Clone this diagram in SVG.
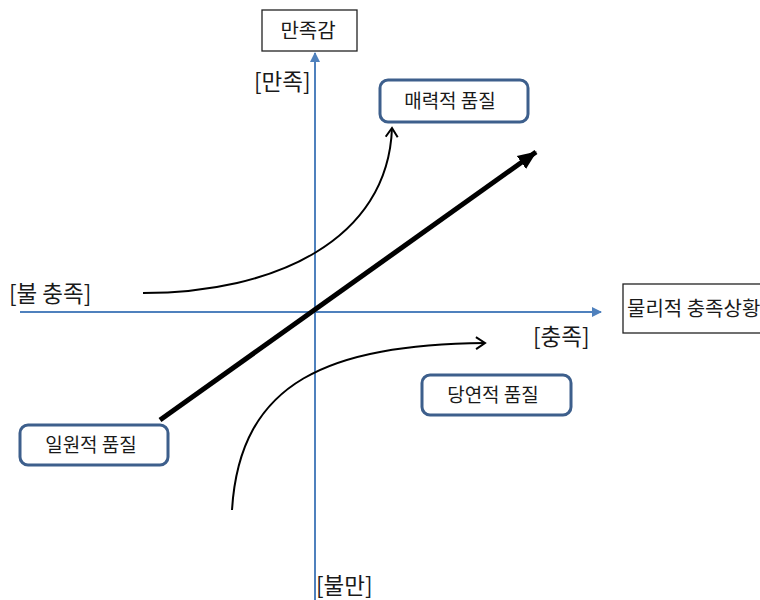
<svg xmlns="http://www.w3.org/2000/svg" width="760" height="600" viewBox="0 0 760 600">
<style>
.t{font-family:"Noto Sans CJK KR","Noto Sans",sans-serif;fill:#1a1a1a}
.s{font-size:19px}
.l{font-size:22.5px}
.rb{fill:#fff;stroke:#3d5f8c;stroke-width:3}
.sb{fill:#fff;stroke:#222;stroke-width:1.3}
.ax{stroke:#4f81bd;stroke-width:2;fill:none}
.cv{stroke:#000;stroke-width:2;fill:none}
</style>
<defs>
<marker id="ab" markerWidth="10" markerHeight="10" refX="9" refY="5" orient="auto" markerUnits="userSpaceOnUse"><path d="M0,0 L10,5 L0,10 Z" fill="#4f81bd"/></marker>
<marker id="oa" markerWidth="14" markerHeight="14" refX="12" refY="7" orient="auto" markerUnits="userSpaceOnUse"><path d="M3,1 L12,7 L3,13" fill="none" stroke="#000" stroke-width="2"/></marker>
<marker id="fa" markerWidth="20" markerHeight="20" refX="18" refY="10" orient="auto" markerUnits="userSpaceOnUse"><path d="M0,2 L19,10 L0,18 Z" fill="#000"/></marker>
</defs>
<g id="connectors">
<line class="ax" x1="20" y1="312" x2="601" y2="312" marker-end="url(#ab)"/>
<line class="ax" x1="315" y1="600" x2="315" y2="53" marker-end="url(#ab)"/>
<line x1="160" y1="420" x2="536" y2="152" stroke="#000" stroke-width="5" marker-end="url(#fa)"/>
<path class="cv" d="M143,293 C275,293 388,240 392,128" marker-end="url(#oa)"/>
<path class="cv" d="M232,510 C240,380 330,345 485,343" marker-end="url(#oa)"/>
</g>
<g id="n_satisfaction"><rect class="sb" x="262" y="10" width="95" height="41"/><text class="t" style="font-size:20px" x="308" y="37.5" text-anchor="middle">만족감</text></g>
<g id="n_physical"><rect class="sb" x="623" y="284" width="145" height="49"/><text class="t" style="font-size:20px" x="627" y="315.5">물리적 충족상황</text></g>
<g id="n_attractive"><rect class="rb" x="380" y="80" width="148" height="42" rx="8"/><text class="t s" x="450" y="107.5" text-anchor="middle">매력적 품질</text></g>
<g id="n_mustbe"><rect class="rb" x="422" y="375" width="149" height="40" rx="8"/><text class="t s" x="493" y="401.5" text-anchor="middle">당연적 품질</text></g>
<g id="n_onedim"><rect class="rb" x="20" y="425" width="148" height="40" rx="8"/><text class="t s" x="91" y="451.5" text-anchor="middle">일원적 품질</text></g>
<g id="labels">
<text class="t l" x="254" y="90">[만족]</text>
<text class="t l" x="9" y="302">[불 충족]</text>
<text class="t l" x="533" y="345">[충족]</text>
<text class="t l" x="316" y="594">[불만]</text>
</g>
</svg>
